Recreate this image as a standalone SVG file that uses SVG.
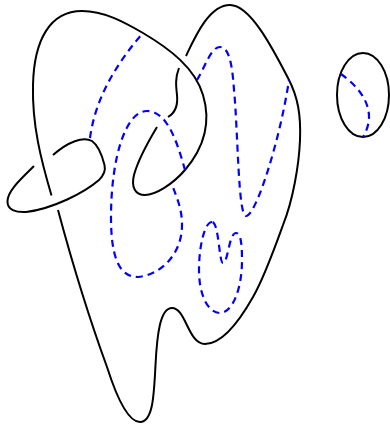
<svg xmlns="http://www.w3.org/2000/svg" width="390" height="425" viewBox="0 0 390 425">
<style>
.k{fill:none;stroke:#000;stroke-width:2}
.b{fill:none;stroke:#00f;stroke-width:2.200;stroke-dasharray:7 5}
</style>
<rect width="390" height="425" fill="#fff"/>
<g id="connectors">
<path class="k" d="M51.500 195.500C41 160 32 125 33 85C34 40 50 11 82 11C104 11 124 22 143 33C170 49 195 68 203 95C212 125 202 150 185 170C172 185 155 195 145 195C135 195 131 187 134 175C138 160 148 142 157 127"/>
<path class="k" d="M34 166C22 178 8 190 7.500 201C7 210 16 212.500 26 212C52 209 84 193 99 180C104 175 106 171 104.500 165C102 155 99 146 92 141C83 136 68 142 53 155"/>
<path class="k" d="M179 68C175 78 176 86 177 95C178 105 175 113 168 117"/>
<path class="k" d="M186 56C195 37 209 5 230 5C250 5 272 47 288 78C298 97 301 115 300 140C299 165 293 200 283 225C274 250 264 278 253 297C240 320 222 344 205 344C188 344 186 308 172 308C160 308 157 335 155.500 365C154 395 153 422 140 422C127 422 115 392 107 367C88 315 72 262 58 210"/>
<ellipse class="k" cx="363" cy="95" rx="26" ry="42"/>
<path class="b" d="M90 138C95 100 115 65 143 33"/>
<path class="b" d="M185 170C178 145 168 111 147 111C125 111 111 160 111 217C111 255 118 277 138 277C160 275 182 255 182 225C182 210 178 200 172 185"/>
<path class="b" d="M197 80C205 67 211 47 220 47C228 47 232 60 234 90C238 130 238 216 246 216C256 216 280 140 289 80"/>
<path class="b" d="M212 222C205 222 199 245 199 270C199 295 208 313 220 313C232 313 242 290 242 260C242 245 241 233 236 233C229 233 228 263 223 263C219 263 219 222 212 222Z"/>
<path class="b" d="M341 74C352 82 369 97 369 117C369 125 366 132 363 137"/>
</g>
</svg>
